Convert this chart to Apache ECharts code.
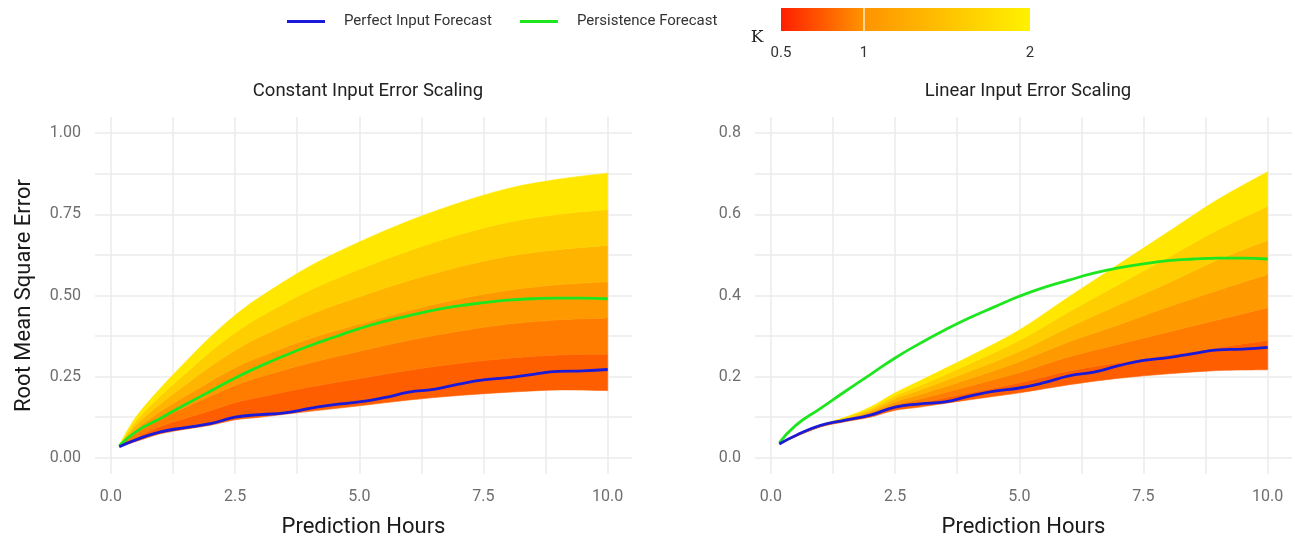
<!DOCTYPE html>
<html>
<head>
<meta charset="utf-8">
<script src="https://cdn.jsdelivr.net/npm/echarts@6/dist/echarts.min.js"></script>
<style>
  html, body { margin: 0; padding: 0; background: #fff; }
  #main { width: 1295px; height: 539px; }
</style>
</head>
<body>
<div id="main"></div>
<script>
// prediction horizon (hours) for the two forecast lines
var hours = [0.17, 0.5, 1, 1.5, 2, 2.5, 3, 3.5, 4, 4.5, 5, 5.5, 6, 6.5, 7, 7.5, 8, 8.5, 9, 9.5, 10];
var perfectInput = [0.034, 0.055, 0.080, 0.093, 0.105, 0.125, 0.133, 0.138, 0.152, 0.164, 0.172, 0.185, 0.202, 0.211, 0.227, 0.240, 0.247, 0.257, 0.266, 0.268, 0.272];
var persistence = [0.037, 0.080, 0.122, 0.164, 0.205, 0.246, 0.282, 0.315, 0.345, 0.372, 0.398, 0.420, 0.438, 0.455, 0.468, 0.478, 0.486, 0.490, 0.492, 0.492, 0.490];

// K ribbons (error scaling factor), one array per K level
var bandHours = [0.17, 0.5, 1, 1.5, 2, 2.5, 3, 4, 5, 6, 7, 8, 9, 10];
var kLevels = [0.5, 0.75, 1, 1.25, 1.5, 1.75, 2];

// constant input error scaling
var constK050 = [0.033, 0.050, 0.074, 0.088, 0.100, 0.117, 0.125, 0.143, 0.160, 0.178, 0.192, 0.202, 0.209, 0.207];
var constK075 = [0.034, 0.062, 0.097, 0.122, 0.145, 0.170, 0.187, 0.218, 0.244, 0.270, 0.291, 0.307, 0.317, 0.319];
var constK100 = [0.035, 0.075, 0.120, 0.156, 0.190, 0.223, 0.249, 0.292, 0.328, 0.362, 0.390, 0.412, 0.425, 0.431];
var constK125 = [0.036, 0.087, 0.143, 0.190, 0.235, 0.277, 0.311, 0.367, 0.412, 0.454, 0.489, 0.516, 0.533, 0.542];
var constK150 = [0.037, 0.100, 0.167, 0.225, 0.281, 0.331, 0.373, 0.441, 0.496, 0.546, 0.588, 0.621, 0.641, 0.654];
var constK175 = [0.038, 0.112, 0.191, 0.260, 0.327, 0.385, 0.434, 0.516, 0.581, 0.638, 0.687, 0.726, 0.750, 0.765];
var constK200 = [0.040, 0.125, 0.215, 0.295, 0.372, 0.439, 0.495, 0.590, 0.665, 0.730, 0.785, 0.830, 0.858, 0.877];

// linear input error scaling
var linK050 = [0.034, 0.052, 0.076, 0.089, 0.100, 0.117, 0.125, 0.143, 0.160, 0.180, 0.196, 0.207, 0.215, 0.217];
var linK075 = [0.034, 0.053, 0.077, 0.091, 0.104, 0.124, 0.135, 0.160, 0.185, 0.214, 0.235, 0.254, 0.272, 0.290];
var linK100 = [0.035, 0.054, 0.078, 0.093, 0.108, 0.131, 0.145, 0.177, 0.210, 0.249, 0.280, 0.310, 0.340, 0.370];
var linK125 = [0.035, 0.054, 0.079, 0.095, 0.112, 0.138, 0.156, 0.195, 0.237, 0.286, 0.328, 0.372, 0.413, 0.452];
var linK150 = [0.035, 0.055, 0.079, 0.097, 0.116, 0.146, 0.167, 0.213, 0.262, 0.322, 0.377, 0.431, 0.488, 0.536];
var linK175 = [0.036, 0.055, 0.080, 0.099, 0.121, 0.153, 0.178, 0.232, 0.289, 0.360, 0.427, 0.494, 0.562, 0.620];
var linK200 = [0.036, 0.056, 0.081, 0.100, 0.125, 0.160, 0.190, 0.250, 0.315, 0.397, 0.477, 0.557, 0.637, 0.705];

// tick labels
var xTicks = [0, 2.5, 5, 7.5, 10];
var yTicksConst = [0, 0.25, 0.5, 0.75, 1];
var yTicksLin = [0, 0.2, 0.4, 0.6, 0.8];
var kTicks = [0.5, 1, 2];

var panelTitles = ['Constant Input Error Scaling', 'Linear Input Error Scaling'];
var bandColors = ['#ff5e00', '#ff7c00', '#ff9900', '#ffb400', '#ffce00', '#ffe700'];
var FONT = 'Roboto, "Noto Sans", sans-serif';

function withMinor(ticks) {
  var out = [];
  for (var i = 0; i < ticks.length; i++) {
    out.push(ticks[i]);
    if (i < ticks.length - 1) out.push((ticks[i] + ticks[i + 1]) / 2);
  }
  return out;
}

function pairs(xs, ys) {
  return xs.map(function (x, i) { return [x, ys[i]]; });
}

// catmull-rom through pixel points -> bezier path commands
function curveCmds(pts) {
  var s = '';
  for (var i = 0; i < pts.length - 1; i++) {
    var p0 = pts[Math.max(i - 1, 0)], p1 = pts[i], p2 = pts[i + 1], p3 = pts[Math.min(i + 2, pts.length - 1)];
    var c1x = p1[0] + (p2[0] - p0[0]) / 6, c1y = p1[1] + (p2[1] - p0[1]) / 6;
    var c2x = p2[0] - (p3[0] - p1[0]) / 6, c2y = p2[1] - (p3[1] - p1[1]) / 6;
    s += ' C' + c1x + ',' + c1y + ' ' + c2x + ',' + c2y + ' ' + p2[0] + ',' + p2[1];
  }
  return s;
}

function bandSeries(idx, levels) {
  return {
    type: 'custom', xAxisIndex: idx, yAxisIndex: idx, z: 2, silent: true, clip: true,
    data: bandColors.map(function (c, i) { return [i]; }),
    renderItem: function (params, api) {
      var i = params.dataIndex;
      var upper = bandHours.map(function (h, j) { return api.coord([h, levels[i + 1][j]]); });
      var lower = bandHours.map(function (h, j) { return api.coord([h, levels[i][j]]); }).reverse();
      var d = 'M' + upper[0][0] + ',' + upper[0][1] + curveCmds(upper) +
        ' L' + lower[0][0] + ',' + lower[0][1] + curveCmds(lower) + ' Z';
      return {
        type: 'path', shape: { pathData: d },
        style: { fill: bandColors[i], stroke: bandColors[i], lineWidth: 0.6 }
      };
    }
  };
}

function lineSeries(idx) {
  return [{
    name: 'Persistence Forecast', type: 'line', xAxisIndex: idx, yAxisIndex: idx,
    smooth: true, symbol: 'none', z: 4, color: '#1ee61e',
    lineStyle: { width: 2.8, color: '#1ee61e' },
    data: pairs(hours, persistence)
  }, {
    name: 'Perfect Input Forecast', type: 'line', xAxisIndex: idx, yAxisIndex: idx,
    smooth: true, symbol: 'none', z: 5, color: '#1a1ad8',
    lineStyle: { width: 2.8, color: '#1a1ad8' },
    data: pairs(hours, perfectInput)
  }];
}

var gridLine = { show: true, lineStyle: { color: '#ebebeb', width: 1.5 } };
var tickLabel = { color: '#6e6e6e', fontSize: 16, fontFamily: FONT };

function xAxis(idx) {
  return {
    type: 'value', gridIndex: idx, min: -0.32, max: 10.49,
    name: 'Prediction Hours', nameLocation: 'middle', nameGap: 42,
    nameTextStyle: { fontSize: 22, color: '#1a1a1a', fontFamily: FONT },
    axisLine: { show: false },
    axisTick: { show: false, customValues: withMinor(xTicks) },
    axisLabel: Object.assign({ customValues: xTicks, margin: 15,
      formatter: function (v) { return v.toFixed(1); } }, tickLabel),
    splitLine: gridLine
  };
}

function yAxis(idx, ticks, min, max, digits) {
  return {
    type: 'value', gridIndex: idx, min: min, max: max,
    name: idx === 0 ? 'Root Mean Square Error' : '',
    nameLocation: 'middle', nameGap: 60,
    nameTextStyle: { fontSize: 22, color: '#1a1a1a', fontFamily: FONT },
    axisLine: { show: false },
    axisTick: { show: false, customValues: withMinor(ticks) },
    axisLabel: Object.assign({ customValues: ticks, margin: 14,
      formatter: function (v) { return v.toFixed(digits); } }, tickLabel),
    splitLine: gridLine
  };
}

// colour bar for K
var barLeft = 781, barRight = 1030, barTop = 8, barH = 23;
function kPos(k) {
  return barLeft + (k - kTicks[0]) / (kTicks[kTicks.length - 1] - kTicks[0]) * (barRight - barLeft);
}
var barGraphics = [{
  type: 'rect', shape: { x: barLeft, y: barTop, width: barRight - barLeft, height: barH },
  style: { fill: new echarts.graphic.LinearGradient(0, 0, 1, 0, [
    { offset: 0, color: '#ff1e00' }, { offset: 0.33, color: '#ff9300' }, { offset: 1, color: '#fff200' }
  ]) }
}, {
  type: 'text', style: { text: 'K', x: 757, y: 38, fill: '#222', font: '17px "DejaVu Serif", serif',
    align: 'center', verticalAlign: 'middle' }
}];
kTicks.forEach(function (k) {
  if (k !== kTicks[0] && k !== kTicks[kTicks.length - 1]) {
    barGraphics.push({ type: 'line', shape: { x1: kPos(k), y1: barTop, x2: kPos(k), y2: barTop + barH },
      style: { stroke: '#ffffff', lineWidth: 1.2 } });
  }
  barGraphics.push({ type: 'text', style: { text: String(k), x: kPos(k), y: 53, fill: '#333',
    font: '15px ' + FONT, align: 'center', verticalAlign: 'middle' } });
});

var series = [
  bandSeries(0, [constK050, constK075, constK100, constK125, constK150, constK175, constK200]),
  bandSeries(1, [linK050, linK075, linK100, linK125, linK150, linK175, linK200])
].concat(lineSeries(0)).concat(lineSeries(1));

var option = {
  backgroundColor: '#ffffff',
  animation: false,
  textStyle: { fontFamily: FONT },
  title: [
    { text: panelTitles[0], left: 363, top: 77, textAlign: 'center',
      textStyle: { fontSize: 18.5, fontWeight: 'normal', color: '#222', fontFamily: FONT } },
    { text: panelTitles[1], left: 1023, top: 77, textAlign: 'center',
      textStyle: { fontSize: 18.5, fontWeight: 'normal', color: '#222', fontFamily: FONT } }
  ],
  legend: {
    data: ['Perfect Input Forecast', 'Persistence Forecast'],
    icon: 'rect', left: 282, top: 9, itemWidth: 38, itemHeight: 3, itemGap: 28,
    textStyle: { fontSize: 15, color: '#333', fontFamily: FONT, padding: [0, 0, 0, 14] }
  },
  grid: [
    { left: 95, top: 117, width: 537, height: 357, outerBoundsMode: 'none', containLabel: false },
    { left: 755, top: 117, width: 537, height: 357, outerBoundsMode: 'none', containLabel: false }
  ],
  xAxis: [xAxis(0), xAxis(1)],
  yAxis: [
    yAxis(0, yTicksConst, -0.05, 1.05, 2),
    yAxis(1, yTicksLin, -0.04, 0.84, 1)
  ],
  graphic: barGraphics,
  series: series
};

var chart = echarts.init(document.getElementById('main'));
chart.setOption(option);
window.addEventListener('resize', function () { chart.resize(); });
</script>
</body>
</html>
